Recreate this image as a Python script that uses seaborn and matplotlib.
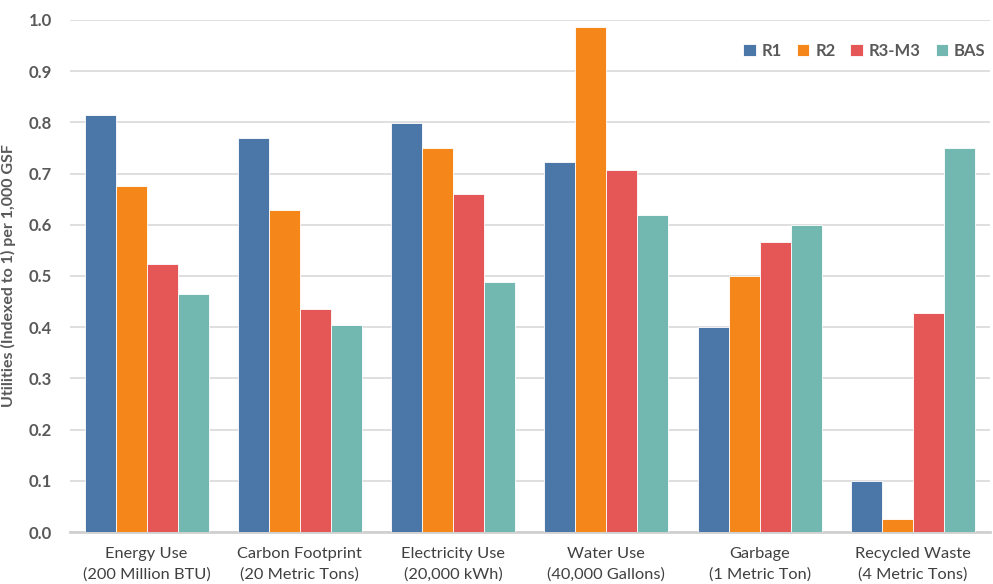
import numpy as np
import pandas as pd
import seaborn as sns
import matplotlib.pyplot as plt

categories = ["Energy Use\n(200 Million BTU)", "Carbon Footprint\n(20 Metric Tons)",
              "Electricity Use\n(20,000 kWh)", "Water Use\n(40,000 Gallons)",
              "Garbage\n(1 Metric Ton)", "Recycled Waste\n(4 Metric Tons)"]
series = ["R1", "R2", "R3-M3", "BAS"]
r1 = [0.814, 0.769, 0.798, 0.723, 0.400, 0.099]
r2 = [0.675, 0.629, 0.749, 0.987, 0.500, 0.025]
r3 = [0.523, 0.435, 0.660, 0.706, 0.567, 0.428]
bas = [0.464, 0.404, 0.489, 0.619, 0.600, 0.749]
colors = ["#4A77A8", "#F5861A", "#E45756", "#73B7B1"]

rows = []
for name, vals in zip(series, [r1, r2, r3, bas]):
    for c, v in zip(categories, vals):
        rows.append({"cat": c, "series": name, "value": v})
df = pd.DataFrame(rows)

sns.set_style("white")
plt.rcParams["font.family"] = ["Lato", "DejaVu Sans"]

fig = plt.figure(figsize=(9.93, 5.84), dpi=100)
ax = fig.add_axes([0.0705, 0.089, 0.926, 0.877])

sns.barplot(data=df, x="cat", y="value", hue="series", order=categories,
            hue_order=series, palette=colors, width=0.81, saturation=1,
            edgecolor="white", linewidth=0.6, ax=ax, zorder=3)

ax.set_ylim(0, 1.0)
ax.set_xlim(-0.5, 5.5)
ax.set_yticks(np.arange(0, 1.01, 0.1))
ax.set_yticklabels([f"{t:.1f}" for t in np.arange(0, 1.01, 0.1)],
                   fontsize=12, fontweight="bold", color="#595959")
ax.yaxis.grid(True, color="#D9D9D9", linewidth=1.2, zorder=0)
ax.set_axisbelow(True)
ax.tick_params(axis="y", length=0, pad=13)
ax.tick_params(axis="x", length=0, pad=11)
for lbl in ax.get_xticklabels():
    lbl.set_fontsize(11.8)
    lbl.set_color("#404040")
    lbl.set_linespacing(1.5)
for s in ["top", "right", "left"]:
    ax.spines[s].set_visible(False)
ax.spines["bottom"].set_color("#D0D0D0")
ax.spines["bottom"].set_linewidth(2)

ax.set_xlabel("")
ax.set_ylabel("Utilities (Indexed to 1) per 1,000 GSF", fontsize=11.5,
              fontweight="bold", color="#595959", labelpad=9)

leg = ax.legend(loc="upper right", bbox_to_anchor=(1.012, 0.985), ncol=4, frameon=False,
                handlelength=0.75, handleheight=0.75, handletextpad=0.35,
                columnspacing=0.9, fontsize=12)
for t in leg.get_texts():
    t.set_fontweight("bold")
    t.set_color("#595959")

fig.savefig("out.png", dpi=100)
